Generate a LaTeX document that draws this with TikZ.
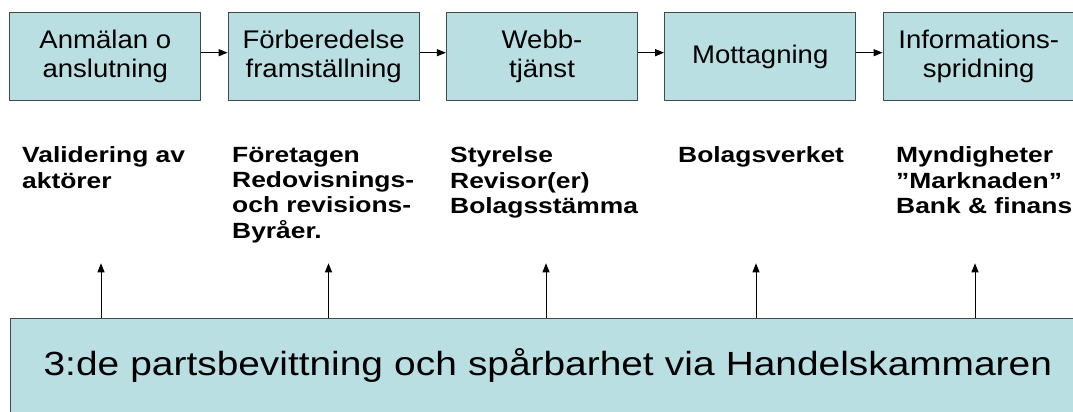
\documentclass[tikz,border=0pt]{standalone}
\usepackage{fontspec}
\setmainfont{Liberation Sans}[FakeStretch=1.08]
\newfontfamily\actorfont{Liberation Sans}[FakeStretch=1.2]
\newfontfamily\basefont{Liberation Sans}[FakeStretch=1.16]
\usetikzlibrary{arrows.meta}
\definecolor{stagefill}{HTML}{B9DFE3}
\definecolor{stageline}{HTML}{404A4A}
\begin{document}
\begin{tikzpicture}[x=1pt,y=1pt,line join=round,
  stage/.style={draw=stageline,fill=stagefill,line width=1.2pt,minimum width=191pt,minimum height=88.5pt,align=center,inner sep=0pt,font=\fontsize{25.5}{29.3}\selectfont},
  actor/.style={anchor=north west,align=left,inner sep=0pt,font=\actorfont\bfseries\fontsize{22}{25.4}\selectfont},
  basebox/.style={draw=stageline,fill=stagefill,line width=1.2pt,anchor=north west,text width=1040pt,inner xsep=33pt,inner ysep=0pt,minimum height=94pt,align=left,font=\basefont\fontsize{33.5}{40}\selectfont},
  flow/.style={-{Triangle[length=9pt,width=7pt]},line width=1pt}]
\clip (0,0) rectangle (1073,412);
\fill[white] (0,0) rectangle (1073,412);
\foreach \x/\t [count=\i] in {105.3/{Anmälan o\\anslutning},323.7/{Förberedelse\\framställning},542/{Webb-\\tjänst},760.2/{Mottagning},978.7/{Informations-\\spridning}}
  {\node[stage] (s\i) at (\x,355.5) {\t};}
\foreach \j [count=\i] in {2,...,5}
  {\draw[flow] ([yshift=3.8]s\i.east) -- ([yshift=3.8]s\j.west);}
\foreach \x/\t [count=\i] in {22/{Validering av\\aktörer},232/{Företagen\\Redovisnings-\\och revisions-\\Byråer.},450/{Styrelse\\Revisor(er)\\Bolagsstämma},678/{Bolagsverket},896/{Myndigheter\\”Marknaden”\\Bank \& finans}}
  {\node[actor] (a\i) at (\x,265.3) {\t};}
\node[basebox] (base) at (10,93.7) {3:de partsbevittning och spårbarhet via Handelskammaren};
\foreach \x [count=\i] in {101,328.5,546,756,975}
  {\coordinate (tip\i) at (\x,148.7);
   \draw[flow] (base.north -| tip\i) -- (tip\i);}
\end{tikzpicture}
\end{document}
